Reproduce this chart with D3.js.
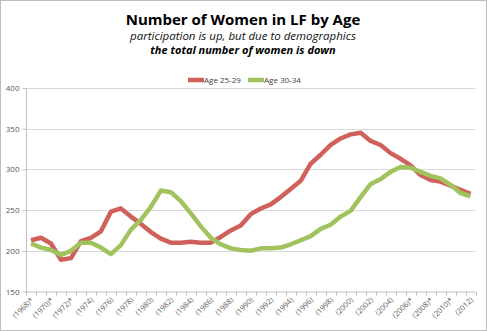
<!DOCTYPE html>
<html>
<head>
<meta charset="utf-8">
<script src="https://cdn.jsdelivr.net/npm/d3@7"></script>
<style>
  body { margin: 0; background: #fff; }
  svg { display: block; font-family: "Open Sans", "Liberation Sans", sans-serif; }
</style>
</head>
<body>
<div class="chart-container"></div>
<script>
// years on the x axis, one category per year
const years = d3.range(1968, 2013);

// number of women in the labor force (thousands), by age group
const age2529 = [
  213, 216, 209, 189, 191, 212, 216, 224, 248, 252,
  242, 233, 223, 215, 210, 210, 211, 210, 210, 217,
  225, 231, 245, 252, 257, 266, 276, 286, 307, 318,
  330, 338, 343, 345, 335, 330, 320, 313, 305, 293,
  287, 285, 280, 275, 270
];
const age3034 = [
  209, 204, 201, 195, 200, 210, 210, 204, 196, 207,
  226, 238, 254, 274, 272, 261, 246, 230, 216, 208,
  203, 201, 200, 203, 203, 204, 208, 213, 218, 227,
  232, 242, 249, 266, 282, 288, 297, 303, 302, 297,
  292, 289, 281, 271, 267
];

// years flagged with an asterisk in the labels
const starred = [1968, 1970, 1972, 2006, 2008, 2010];

const yTicks = [150, 200, 250, 300, 350, 400];

const series = [
  { name: "Age 25-29", values: age2529, color: "#d0605a" },
  { name: "Age 30-34", values: age3034, color: "#a0c35d" },
];

const width = 487, height = 331;
const plot = { left: 26, right: 475.5, top: 88, bottom: 291.5 };

const svg = d3.select(".chart-container")
  .append("svg")
  .attr("width", width)
  .attr("height", height);

// outer frame
svg.append("rect")
  .attr("x", 0.5).attr("y", 0.5)
  .attr("width", width - 1).attr("height", height - 1)
  .attr("fill", "#fff")
  .attr("stroke", "#bdbdbd");

// titles
svg.append("text")
  .attr("x", 243).attr("y", 25)
  .attr("text-anchor", "middle")
  .attr("font-size", 15).attr("font-weight", "bold")
  .attr("fill", "#000")
  .text("Number of Women in LF by Age");

svg.append("text")
  .attr("x", 243).attr("y", 40)
  .attr("text-anchor", "middle")
  .attr("font-size", 11.5).attr("font-style", "italic")
  .attr("fill", "#111")
  .text("participation is up, but due to demographics");

svg.append("text")
  .attr("x", 243).attr("y", 54)
  .attr("text-anchor", "middle")
  .attr("font-size", 11).attr("font-style", "italic").attr("font-weight", "bold")
  .attr("fill", "#000")
  .text("the total number of women is down");

// scales
const x = d3.scaleBand()
  .domain(years)
  .range([plot.left, plot.right])
  .paddingInner(0).paddingOuter(0);

const y = d3.scaleLinear()
  .domain([150, 400])
  .range([plot.bottom, plot.top]);

// gridlines
svg.append("g")
  .selectAll("line")
  .data(yTicks.slice(1))
  .enter()
  .append("line")
  .attr("x1", plot.left).attr("x2", plot.right)
  .attr("y1", d => Math.round(y(d)) + 0.5)
  .attr("y2", d => Math.round(y(d)) + 0.5)
  .attr("stroke", "#d9d9d9").attr("stroke-width", 1);

// y axis
const yAxis = svg.append("g")
  .attr("transform", "translate(" + (plot.left + 0.5) + ",0)")
  .call(d3.axisLeft(y).tickValues(yTicks).tickSize(4).tickPadding(3).tickFormat(d3.format("d")));
yAxis.select(".domain").attr("stroke", "#bfbfbf").attr("d", "M0," + plot.top + "V" + plot.bottom);
yAxis.selectAll(".tick line").attr("stroke", "#bfbfbf");
yAxis.selectAll(".tick text")
  .attr("font-size", 8).attr("fill", "#595959")
  .attr("font-family", "\"Open Sans\", sans-serif");

// x axis line and tick marks between categories
const xAxisG = svg.append("g");
xAxisG.append("line")
  .attr("x1", plot.left).attr("x2", plot.right)
  .attr("y1", plot.bottom + 0.5).attr("y2", plot.bottom + 0.5)
  .attr("stroke", "#bfbfbf");
xAxisG.selectAll(".xtick")
  .data(years.concat([years[years.length - 1] + 1]))
  .enter()
  .append("line")
  .attr("class", "xtick")
  .attr("x1", (d, i) => Math.round(plot.left + i * x.bandwidth()) + 0.5)
  .attr("x2", (d, i) => Math.round(plot.left + i * x.bandwidth()) + 0.5)
  .attr("y1", plot.bottom)
  .attr("y2", plot.bottom + 4)
  .attr("stroke", "#bfbfbf");

// rotated year labels, every other year
xAxisG.selectAll(".xlabel")
  .data(years.filter((d, i) => i % 2 === 0))
  .enter()
  .append("text")
  .attr("class", "xlabel")
  .attr("transform", d => "translate(" + (x(d) + x.bandwidth() / 2 + 3) + "," + (plot.bottom + 9) + ")rotate(-45)")
  .attr("text-anchor", "end")
  .attr("font-size", 7.5)
  .attr("fill", "#595959")
  .text(d => "(" + d + ")" + (starred.includes(d) ? "*" : ""));

// lines
const line = d3.line()
  .x((d, i) => x(years[i]) + x.bandwidth() / 2)
  .y(d => y(d));

svg.append("g")
  .selectAll("path")
  .data(series)
  .enter()
  .append("path")
  .attr("fill", "none")
  .attr("stroke", d => d.color)
  .attr("stroke-width", 4.5)
  .attr("stroke-linejoin", "round")
  .attr("d", d => line(d.values));

// legend
const legend = svg.append("g")
  .selectAll("g")
  .data(series)
  .enter()
  .append("g")
  .attr("transform", (d, i) => "translate(" + (188 + i * 60) + ",80)");
legend.append("line")
  .attr("x1", 0).attr("x2", 16)
  .attr("stroke", d => d.color)
  .attr("stroke-width", 4.5);
legend.append("text")
  .attr("x", 16).attr("y", 3)
  .attr("font-size", 8)
  .attr("fill", "#404040")
  .text(d => d.name);
</script>
</body>
</html>
